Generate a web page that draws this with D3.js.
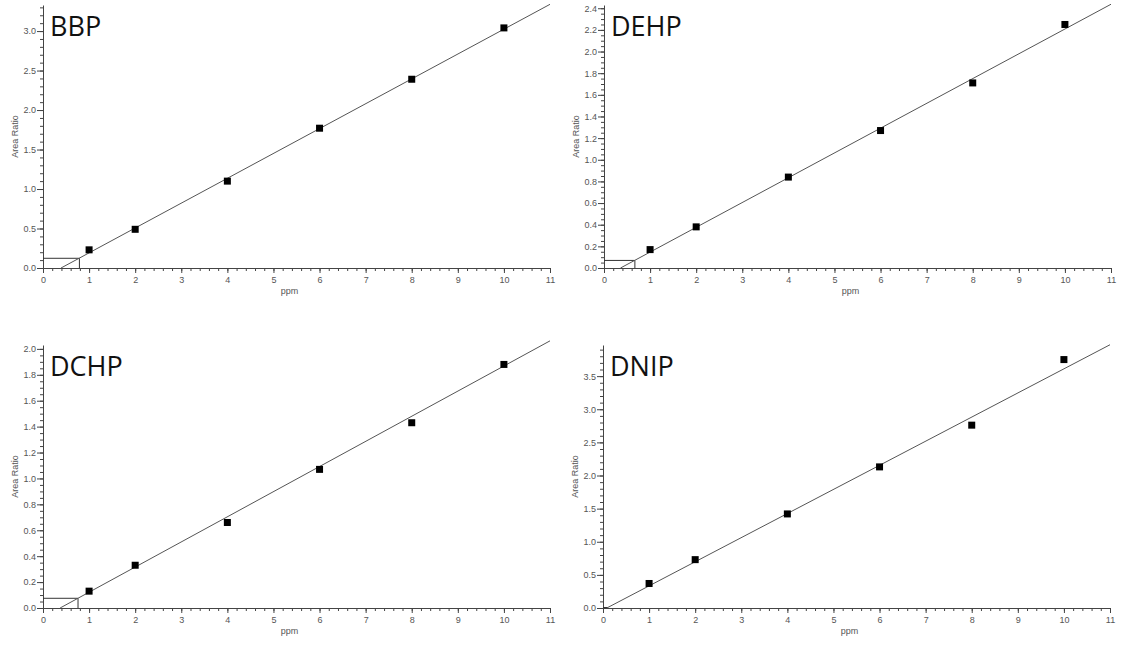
<!DOCTYPE html>
<html>
<head>
<meta charset="utf-8">
<script src="https://cdn.jsdelivr.net/npm/d3@7"></script>
<style>
  body { margin: 0; background: #fff; }
  svg { display: block; }
  .tick text { font-family: "Liberation Sans", Arial, sans-serif; font-size: 9px; fill: #555; }
  .domain, .tick line { stroke: #444; }
</style>
</head>
<body>
<svg id="chart" width="1122" height="646"></svg>
<script>
// Calibration curves: area ratio versus concentration (ppm)
const compounds = ["BBP", "DEHP", "DCHP", "DNIP"];
const concentrations = [1, 2, 4, 6, 8, 10];

const bbpRatio  = [0.23, 0.49, 1.10, 1.77, 2.39, 3.04];
const dehpRatio = [0.17, 0.38, 0.84, 1.27, 1.71, 2.25];
const dchpRatio = [0.13, 0.33, 0.66, 1.07, 1.43, 1.88];
const dnipRatio = [0.37, 0.73, 1.42, 2.13, 2.76, 3.75];
const ratios = [bbpRatio, dehpRatio, dchpRatio, dnipRatio];

// fitted line: ratio = slope * ppm + intercept
const slopes     = [0.3147, 0.229, 0.194, 0.364];
const intercepts = [-0.123, -0.082, -0.072, -0.030];

// detection limit guide (ppm, ratio)
const lodPpm   = [0.79, 0.67, 0.76, 0.10];
const lodRatio = [0.123, 0.07, 0.075, 0.007];

// axis ranges and tick steps
const yMax       = [3.33, 2.43, 2.03, 3.97];
const yMajorStep = [0.5, 0.2, 0.2, 0.5];
const yMinorStep = [0.1, 0.05, 0.05, 0.1];
const xMax = 11;
const xTickValues  = d3.range(0, 12, 1);
const xMinorValues = d3.range(0, 55 + 1, 1).map(i => i / 5);

const svg = d3.select("#chart");
const panelLeft = [43, 604, 43, 603];
const panelTop  = [5, 5, 345, 345];
const plotW = 507, plotH = 263;

compounds.forEach((name, i) => {
  const g = svg.append("g").attr("transform", `translate(${panelLeft[i]},${panelTop[i]})`);
  const x = d3.scaleLinear().domain([0, xMax]).range([0, plotW]);
  const y = d3.scaleLinear().domain([0, yMax[i]]).range([plotH, 0]);

  const nMajor = Math.floor(yMax[i] / yMajorStep[i] + 1e-6);
  const yMajors = d3.range(0, nMajor + 1).map(k => +(k * yMajorStep[i]).toFixed(2));
  const nMinor = Math.floor(yMax[i] / yMinorStep[i] + 1e-6);
  const yMinors = d3.range(0, nMinor + 1).map(k => +(k * yMinorStep[i]).toFixed(3));

  // minor ticks
  g.append("g").attr("transform", `translate(0,${plotH})`)
    .call(d3.axisBottom(x).tickValues(xMinorValues).tickSize(3).tickSizeOuter(0).tickFormat(""))
    .call(a => a.select(".domain").remove());
  g.append("g")
    .call(d3.axisLeft(y).tickValues(yMinors).tickSize(3).tickSizeOuter(0).tickFormat(""))
    .call(a => a.select(".domain").remove());

  // major axes
  g.append("g").attr("transform", `translate(0,${plotH})`)
    .call(d3.axisBottom(x).tickValues(xTickValues).tickSize(5).tickPadding(4).tickSizeOuter(0).tickFormat(d3.format("d")));
  g.append("g")
    .call(d3.axisLeft(y).tickValues(yMajors).tickSize(6).tickPadding(1).tickSizeOuter(0).tickFormat(d3.format(".1f")));

  // detection limit guide
  g.append("path")
    .attr("d", `M${x(0)},${y(lodRatio[i])}H${x(lodPpm[i])}V${y(0)}`)
    .attr("fill", "none").attr("stroke", "#333").attr("stroke-width", 1);

  // fitted line from its zero crossing to the end of the range
  const x0 = -intercepts[i] / slopes[i];
  g.append("line")
    .attr("x1", x(x0)).attr("y1", y(0))
    .attr("x2", x(xMax)).attr("y2", y(slopes[i] * xMax + intercepts[i]))
    .attr("stroke", "#555").attr("stroke-width", 1);

  // calibration points
  const s = 7;
  g.selectAll("rect.pt").data(concentrations.map((c, k) => [c, ratios[i][k]]))
    .join("rect").attr("class", "pt")
    .attr("x", d => x(d[0]) - s / 2).attr("y", d => y(d[1]) - s / 2)
    .attr("width", s).attr("height", s).attr("fill", "#000");

  // compound name
  g.append("text").attr("x", 7).attr("y", 31)
    .attr("font-family", "'Open Sans', sans-serif").attr("font-size", 27).attr("fill", "#111")
    .text(name);

  // axis titles
  g.append("text").attr("x", plotW / 2 - 7).attr("y", plotH + 26)
    .attr("text-anchor", "middle")
    .attr("font-family", "'Liberation Sans', Arial, sans-serif").attr("font-size", 9).attr("fill", "#555")
    .text("ppm");
  g.append("text")
    .attr("transform", `translate(-25,${plotH / 2}) rotate(-90)`)
    .attr("text-anchor", "middle")
    .attr("font-family", "'Liberation Sans', Arial, sans-serif").attr("font-size", 9).attr("fill", "#555")
    .text("Area Ratio");
});
</script>
</body>
</html>
